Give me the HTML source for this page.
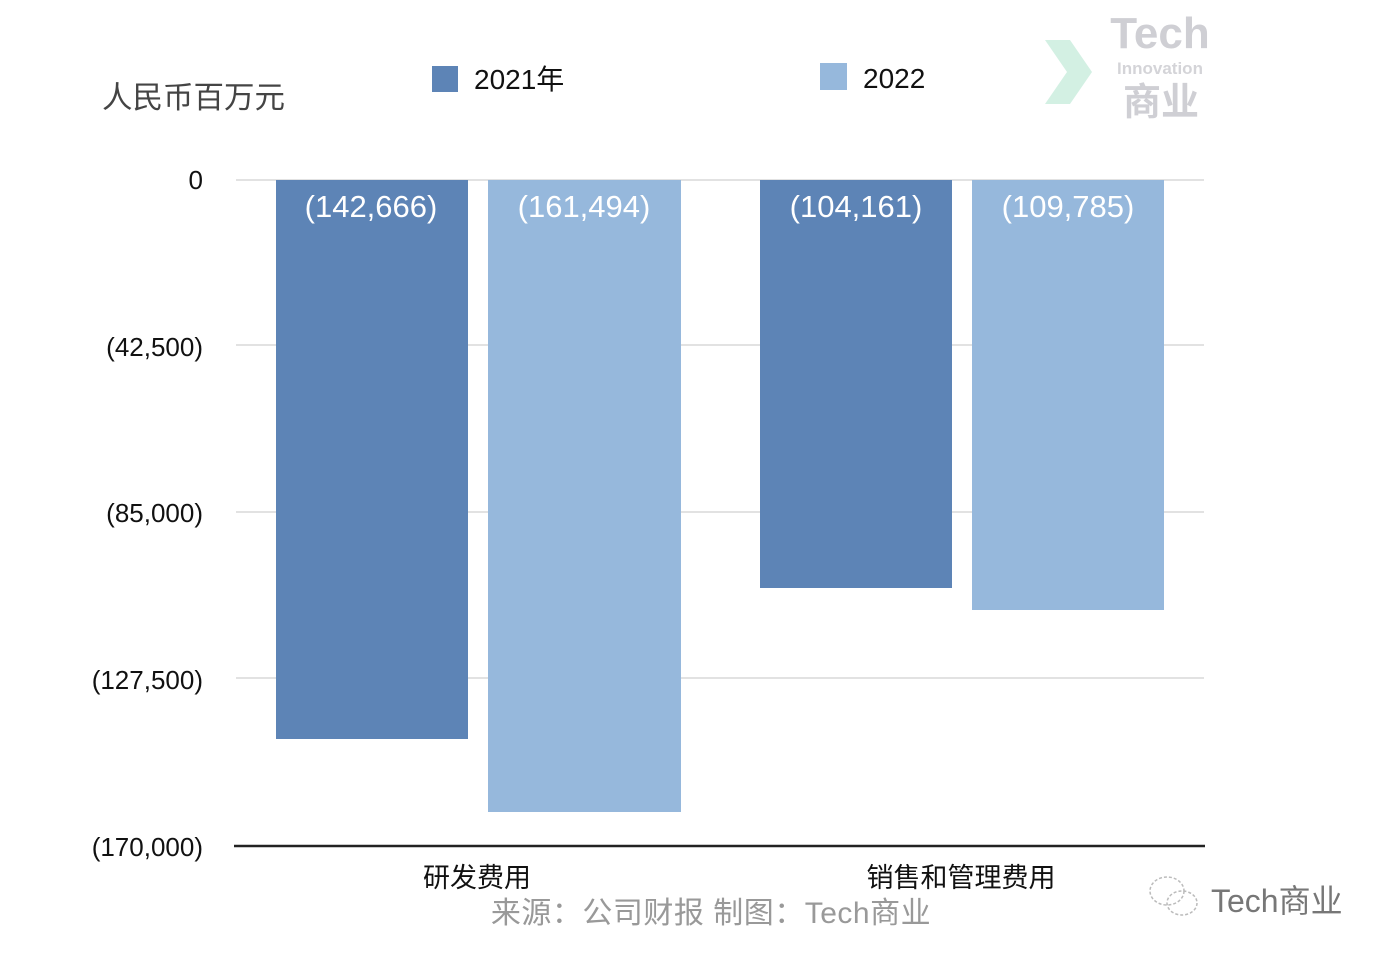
<!DOCTYPE html>
<html><head><meta charset="utf-8"><style>
body{margin:0;background:#fff;}
svg text{font-family:"Liberation Sans","Noto Sans CJK SC",sans-serif;}
</style></head><body>
<svg width="1399" height="960" viewBox="0 0 1399 960" xmlns="http://www.w3.org/2000/svg">
<rect width="1399" height="960" fill="#fff"/>
<g stroke="#d8d8d8" stroke-width="1.5">
<line x1="236" y1="180" x2="1204" y2="180"/>
<line x1="236" y1="345" x2="1204" y2="345"/>
<line x1="236" y1="512" x2="1204" y2="512"/>
<line x1="236" y1="678" x2="1204" y2="678"/>
</g>
<rect x="276" y="180" width="192" height="559" fill="#5d84b6"/>
<rect x="488" y="180" width="193" height="632" fill="#96b8dc"/>
<rect x="760" y="180" width="192" height="408" fill="#5d84b6"/>
<rect x="972" y="180" width="192" height="430" fill="#96b8dc"/>
<line x1="234" y1="846" x2="1205" y2="846" stroke="#222" stroke-width="2.5"/>
<g fill="#fff" font-size="31" text-anchor="middle">
<text x="371" y="217">(142,666)</text>
<text x="584" y="217">(161,494)</text>
<text x="856" y="217">(104,161)</text>
<text x="1068" y="217">(109,785)</text>
</g>
<g fill="#111" font-size="26" text-anchor="end">
<text x="203" y="189">0</text>
<text x="203" y="356">(42,500)</text>
<text x="203" y="522">(85,000)</text>
<text x="203" y="689">(127,500)</text>
<text x="203" y="856">(170,000)</text>
</g>
<text x="102" y="108" font-size="30.5" fill="#444">人民币百万元</text>
<rect x="432" y="66" width="26" height="26" fill="#5d84b6"/>
<text x="474" y="89" font-size="28" fill="#111">2021年</text>
<rect x="820" y="63" width="27" height="27" fill="#96b8dc"/>
<text x="863" y="88" font-size="28" fill="#111">2022</text>
<g fill="#111" font-size="27" text-anchor="middle">
<text x="477" y="887">研发费用</text>
<text x="961" y="887">销售和管理费用</text>
</g>
<text x="711" y="923" font-size="30" fill="#999" text-anchor="middle" letter-spacing="0.5">来源：公司财报 制图：Tech商业</text>
<path d="M1045 40 L1070 40 L1092 72 L1070 104 L1045 104 L1067 72 Z" fill="#c8ecdc" opacity="0.8"/>
<text x="1160" y="48" font-size="44" font-weight="bold" fill="#cfcfd4" text-anchor="middle" font-family="Liberation Serif,serif">Tech</text>
<text x="1160" y="74" font-size="17" font-weight="bold" fill="#d4d4d8" text-anchor="middle">Innovation</text>
<text x="1161" y="115" font-size="38" font-weight="bold" fill="#cfcfd4" text-anchor="middle">商业</text>
<g fill="none" stroke="#bbb" stroke-width="1.5" stroke-dasharray="3 2">
<ellipse cx="1167" cy="891" rx="17" ry="14"/>
<ellipse cx="1182" cy="903" rx="15" ry="12"/>
</g>
<text x="1211" y="912" font-size="32" fill="#777">Tech商业</text>
</svg>
</body></html>
